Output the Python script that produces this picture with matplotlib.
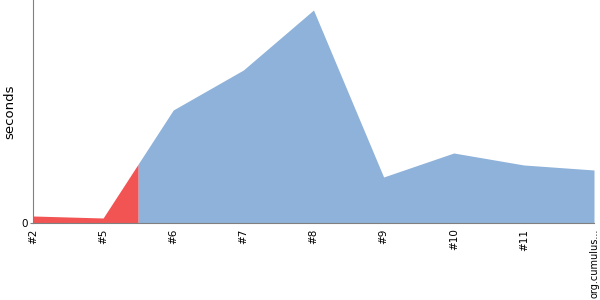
import numpy as np
import matplotlib
matplotlib.use("Agg")
import matplotlib.pyplot as plt

# Build durations (seconds) and build results
builds = ["#2", "#5", "#6", "#7", "#8", "#9", "#10", "#11", "org.cumulus..."]
durations = [7, 5, 113, 153, 213, 46, 70, 58, 53]
results = ["failure", "failure", "success", "success", "success",
           "success", "success", "success", "success"]

colors = {"failure": "#F25454", "success": "#8EB2D9"}

fig = plt.figure(figsize=(6, 3), dpi=100)
ax = fig.add_axes([0.055, 0.2567, 0.935, 0.7433])

x = np.arange(len(builds))
y = np.array(durations, dtype=float)

# each build owns the area from the midpoint before to the midpoint after;
# consecutive builds with the same result are merged into one polygon
runs = []
for i, r in enumerate(results):
    if runs and runs[-1][0] == r:
        runs[-1][1].append(i)
    else:
        runs.append((r, [i]))

for r, idx in runs:
    xs = list(x[idx])
    ys = list(y[idx])
    first, last = idx[0], idx[-1]
    if first > 0:
        xs.insert(0, (x[first - 1] + x[first]) / 2)
        ys.insert(0, (y[first - 1] + y[first]) / 2)
    if last < len(builds) - 1:
        xs.append((x[last] + x[last + 1]) / 2)
        ys.append((y[last] + y[last + 1]) / 2)
    ax.fill_between(xs, ys, 0, color=colors[r], linewidth=0)

ax.set_xlim(0, len(builds) - 1)
ax.set_ylim(0, 223)
ax.set_xticks(x)
labels = ax.set_xticklabels(builds, rotation=90, fontsize=7.5, va="top")
labels[-1].set_fontsize(7)
ax.set_yticks([0])
ax.set_yticklabels(["0"], fontsize=7.5)
ax.tick_params(axis="x", length=0, pad=4)
ax.tick_params(axis="y", length=2, color="#808080", pad=2)
ax.set_ylabel("seconds", fontsize=9.5, labelpad=3)

for side in ["top", "right"]:
    ax.spines[side].set_visible(False)
for side in ["left", "bottom"]:
    ax.spines[side].set_color("#808080")

fig.savefig("out.png", dpi=100)
